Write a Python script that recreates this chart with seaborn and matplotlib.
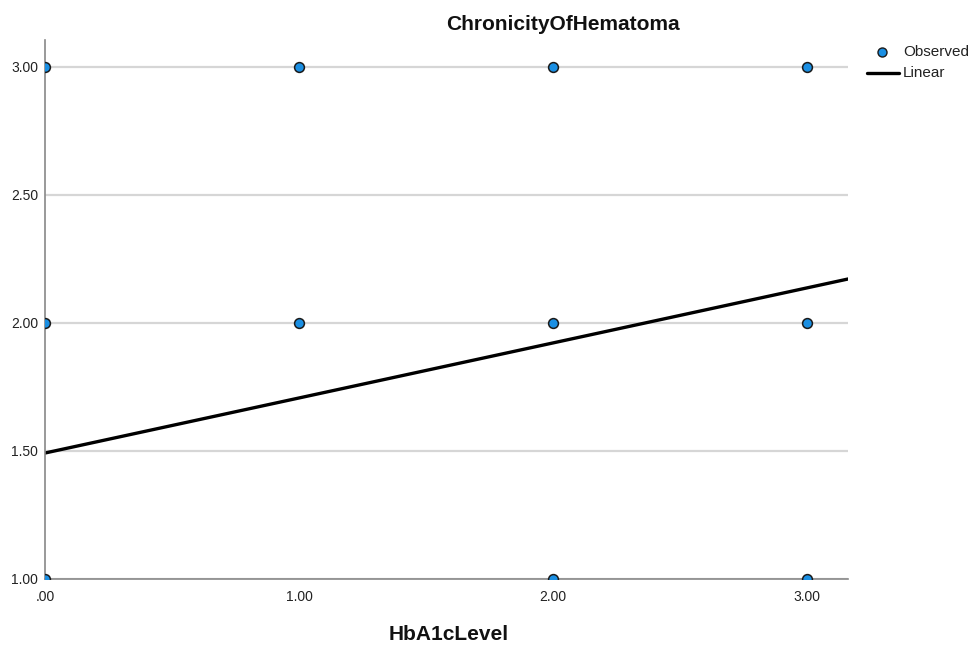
import matplotlib
matplotlib.use("Agg")
import matplotlib.pyplot as plt
import seaborn as sns
import numpy as np
import pandas as pd
from matplotlib.lines import Line2D

# Data
hba1c_level = [0, 0, 0, 1, 1, 2, 2, 2, 3, 3, 3]
chronicity = [3, 2, 1, 3, 2, 3, 2, 1, 3, 2, 1]
fit_intercept = 1.492
fit_slope = 0.215
x_ticks = [0, 1, 2, 3]
x_tick_labels = [".00", "1.00", "2.00", "3.00"]
y_ticks = [1.0, 1.5, 2.0, 2.5, 3.0]
y_tick_labels = ["1.00", "1.50", "2.00", "2.50", "3.00"]
title = "ChronicityOfHematoma"
xlabel = "HbA1cLevel"
legend_labels = ["Observed", "Linear"]

sns.set_theme(style="white")
plt.rcParams['font.family'] = ['Liberation Sans', 'DejaVu Sans']

W, H = 977, 646
fig = plt.figure(figsize=(W / 100, H / 100), dpi=100)
ax = fig.add_axes([45 / W, 1 - 579 / H, (848 - 45) / W, (579 - 40) / H])

xmin, xmax = 0.0, 3.161
ymin, ymax = 1.0, 3.105
pt_color = "#1a8fe3"

for yv in y_ticks:
    ax.axhline(yv, color="#d6d6d6", lw=1.6, zorder=0)

obs = pd.DataFrame({"x": hba1c_level, "y": chronicity})
sns.scatterplot(data=obs, x="x", y="y", ax=ax, s=50, color=pt_color,
                edgecolor="#1a1a1a", linewidth=1.1, zorder=3, legend=False)

fx = np.array([xmin, xmax])
fit = pd.DataFrame({"x": fx, "y": fit_intercept + fit_slope * fx})
sns.lineplot(data=fit, x="x", y="y", ax=ax, color="black", lw=2.4, zorder=2)

ax.set_xlim(xmin, xmax)
ax.set_ylim(ymin, ymax)
ax.set_xticks(x_ticks)
ax.set_xticklabels(x_tick_labels)
ax.set_yticks(y_ticks)
ax.set_yticklabels(y_tick_labels)
ax.tick_params(length=0, labelsize=10, colors="#222222")
ax.tick_params(axis="y", pad=5)
ax.tick_params(axis="x", pad=8)
ax.set_xlabel("")
ax.set_ylabel("")
for s in ["top", "right"]:
    ax.spines[s].set_visible(False)
for s in ["left", "bottom"]:
    ax.spines[s].set_color("#888888")
    ax.spines[s].set_linewidth(1.2)
ax.grid(False)

fig.text(563 / W, 1 - 24 / H, title, ha="center", va="center",
         fontsize=15, fontweight="bold", color="#111111")
fig.text(449 / W, 1 - 635 / H, xlabel, ha="center", va="center",
         fontsize=15, fontweight="bold", color="#111111")

# Legend (outside the plot, top right)
fig.add_artist(Line2D([882 / W], [1 - 52 / H], marker="o", ls="none", markersize=6.5,
                      markerfacecolor=pt_color, markeredgecolor="#1a1a1a",
                      markeredgewidth=1.0, transform=fig.transFigure))
fig.add_artist(Line2D([867 / W, 899 / W], [1 - 73 / H, 1 - 73 / H], color="black",
                      lw=2.4, transform=fig.transFigure))
fig.text(903 / W, 1 - 52 / H, legend_labels[0], ha="left", va="center",
         fontsize=11, color="#222222")
fig.text(903 / W, 1 - 73 / H, legend_labels[1], ha="left", va="center",
         fontsize=11, color="#222222")

fig.savefig("out.png", dpi=100)
